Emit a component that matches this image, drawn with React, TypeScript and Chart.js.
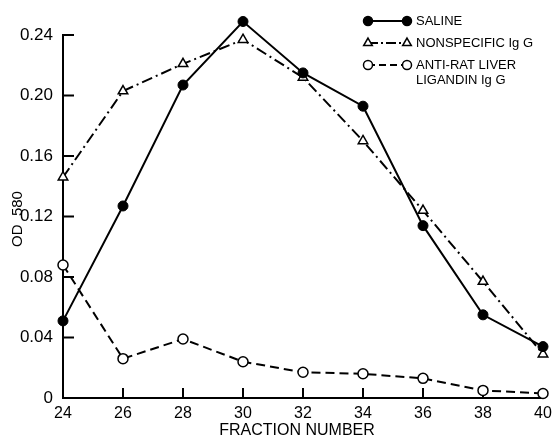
import React, { useEffect, useRef } from "react";
import { Chart, registerables } from "chart.js";

Chart.register(...registerables);

const fractions = [24, 26, 28, 30, 32, 34, 36, 38, 40];
const saline = [0.051, 0.127, 0.207, 0.249, 0.215, 0.193, 0.114, 0.055, 0.034];
const nonspecific = [0.146, 0.203, 0.221, 0.237, 0.212, 0.17, 0.124, 0.077, 0.029];
const antiRat = [0.088, 0.026, 0.039, 0.024, 0.017, 0.016, 0.013, 0.005, 0.003];

const xTicks = [24, 26, 28, 30, 32, 34, 36, 38, 40];
const yTicks = [0, 0.04, 0.08, 0.12, 0.16, 0.2, 0.24];
const yTickLabels = ["0", "0.04", "0.08", "0.12", "0.16", "0.20", "0.24"];

const seriesNames = ["SALINE", "NONSPECIFIC Ig G", "ANTI-RAT LIVER LIGANDIN Ig G"];
const legendLines = [["SALINE"], ["NONSPECIFIC Ig G"], ["ANTI-RAT LIVER", "LIGANDIN Ig G"]];
const xTitle = "FRACTION NUMBER";
const yTitle = "OD  580";

const FONT = "'Liberation Sans', Arial, sans-serif";

const toPts = (ys: number[]) => fractions.map((x, i) => ({ x, y: ys[i] }));

function drawMarker(ctx: CanvasRenderingContext2D, kind: string, x: number, y: number, r: number) {
  ctx.save();
  ctx.setLineDash([]);
  ctx.lineWidth = 1.5;
  ctx.strokeStyle = "#000";
  ctx.beginPath();
  if (kind === "triangle") {
    let rad = 0;
    ctx.moveTo(x + Math.sin(rad) * r, y - Math.cos(rad) * r);
    rad += (2 * Math.PI) / 3;
    ctx.lineTo(x + Math.sin(rad) * r, y - Math.cos(rad) * r);
    rad += (2 * Math.PI) / 3;
    ctx.lineTo(x + Math.sin(rad) * r, y - Math.cos(rad) * r);
    ctx.closePath();
    ctx.fillStyle = "#fff";
  } else {
    ctx.arc(x, y, r, 0, Math.PI * 2);
    ctx.fillStyle = kind === "filled" ? "#000" : "#fff";
  }
  ctx.fill();
  ctx.stroke();
  ctx.restore();
}

const customPlugin = {
  id: "customAxesLegend",
  beforeDraw(chart: any) {
    const ctx = chart.ctx;
    ctx.save();
    ctx.fillStyle = "#fff";
    ctx.fillRect(0, 0, chart.width, chart.height);
    ctx.restore();
  },
  beforeDatasetsDraw(chart: any) {
    const ctx = chart.ctx;
    const xs = chart.scales.x;
    const ys = chart.scales.y;
    const x0 = xs.getPixelForValue(xTicks[0]);
    const x1 = xs.getPixelForValue(xTicks[xTicks.length - 1]);
    const y0 = ys.getPixelForValue(yTicks[0]);
    const y1 = ys.getPixelForValue(yTicks[yTicks.length - 1]);
    ctx.save();
    ctx.strokeStyle = "#000";
    ctx.lineWidth = 2;
    ctx.lineCap = "square";
    ctx.beginPath();
    ctx.moveTo(x0, y1);
    ctx.lineTo(x0, y0);
    ctx.lineTo(x1, y0);
    ctx.stroke();
    ctx.lineCap = "butt";
    ctx.beginPath();
    yTicks.slice(1).forEach((v) => {
      const py = ys.getPixelForValue(v);
      ctx.moveTo(x0, py);
      ctx.lineTo(x0 + 11, py);
    });
    xTicks.slice(1).forEach((v) => {
      const px = xs.getPixelForValue(v);
      ctx.moveTo(px, y0);
      ctx.lineTo(px, y0 - 10);
    });
    ctx.stroke();

    // axis titles
    ctx.fillStyle = "#000";
    ctx.textAlign = "center";
    ctx.textBaseline = "middle";
    ctx.font = `16px ${FONT}`;
    ctx.fillText(xTitle, (x0 + x1) / 2 - 6, 431);
    ctx.save();
    ctx.translate(18, 219);
    ctx.rotate(-Math.PI / 2);
    ctx.font = `15px ${FONT}`;
    ctx.fillText(yTitle, 0, 0);
    ctx.restore();
    ctx.restore();
  },
  afterDraw(chart: any) {
    const ctx = chart.ctx;
    const rows = [
      { y: 21, kind: "filled", dash: [] as number[] },
      { y: 43, kind: "triangle", dash: [10, 3, 2, 3] },
      { y: 65, kind: "open", dash: [7, 4] },
    ];
    ctx.save();
    rows.forEach((row, i) => {
      ctx.strokeStyle = "#000";
      ctx.lineWidth = 2;
      ctx.setLineDash(row.dash);
      ctx.beginPath();
      ctx.moveTo(368, row.y);
      ctx.lineTo(407, row.y);
      ctx.stroke();
      drawMarker(ctx, row.kind, 368, row.y, row.kind === "triangle" ? 5 : 4.5);
      drawMarker(ctx, row.kind, 407, row.y, row.kind === "triangle" ? 5 : 4.5);
      ctx.fillStyle = "#000";
      ctx.font = `13px ${FONT}`;
      ctx.textBaseline = "middle";
      ctx.textAlign = "left";
      legendLines[i].forEach((t, j) => {
        ctx.fillText(t, 416, row.y + j * 15);
      });
    });
    ctx.restore();
  },
};

export default function App() {
  const ref = useRef<HTMLCanvasElement | null>(null);
  useEffect(() => {
    if (!ref.current) return;
    const chart = new Chart(ref.current, {
      type: "line",
      data: {
        datasets: [
          {
            label: seriesNames[0],
            data: toPts(saline),
            borderColor: "#000",
            borderWidth: 2,
            pointStyle: "circle",
            pointRadius: 5,
            pointBackgroundColor: "#000",
            pointBorderColor: "#000",
            pointBorderWidth: 1,
            tension: 0,
            clip: false,
          },
          {
            label: seriesNames[1],
            data: toPts(nonspecific),
            borderColor: "#000",
            borderWidth: 2,
            borderDash: [11, 4, 2, 4],
            pointStyle: "triangle",
            pointRadius: 5.5,
            pointBackgroundColor: "#fff",
            pointBorderColor: "#000",
            pointBorderWidth: 1.5,
            tension: 0,
            clip: false,
          },
          {
            label: seriesNames[2],
            data: toPts(antiRat),
            borderColor: "#000",
            borderWidth: 2,
            borderDash: [9, 5],
            pointStyle: "circle",
            pointRadius: 5,
            pointBackgroundColor: "#fff",
            pointBorderColor: "#000",
            pointBorderWidth: 1.5,
            tension: 0,
            clip: false,
          },
        ] as any,
      },
      options: {
        responsive: false,
        animation: false,
        events: [],
        layout: { padding: { left: 0, right: 9, top: 20, bottom: 0 } },
        plugins: {
          legend: { display: false },
          tooltip: { enabled: false },
          title: { display: false },
        },
        scales: {
          x: {
            type: "linear",
            min: 24,
            max: 40,
            grid: { display: false },
            border: { display: false },
            afterBuildTicks: (s: any) => {
              s.ticks = xTicks.map((v) => ({ value: v }));
            },
            afterFit: (s: any) => {
              s.height = 42;
            },
            ticks: {
              color: "#000",
              padding: 0,
              maxRotation: 0,
              font: { family: FONT, size: 16, lineHeight: 1 },
              callback: (v: any) => String(v),
            },
          },
          y: {
            type: "linear",
            min: 0,
            max: 0.25,
            grid: { display: false },
            border: { display: false },
            afterBuildTicks: (s: any) => {
              s.ticks = yTicks.map((v) => ({ value: v }));
            },
            afterFit: (s: any) => {
              s.width = 63;
            },
            ticks: {
              color: "#000",
              padding: 2,
              font: { family: FONT, size: 17 },
              callback: (_v: any, i: number) => yTickLabels[i],
            },
          },
        },
      } as any,
      plugins: [customPlugin],
    });
    return () => chart.destroy();
  }, []);
  return (
    <div style={{ position: "fixed", left: 0, top: 0, width: 552, height: 440, background: "#fff" }}>
      <canvas ref={ref} width={552} height={440} />
    </div>
  );
}
